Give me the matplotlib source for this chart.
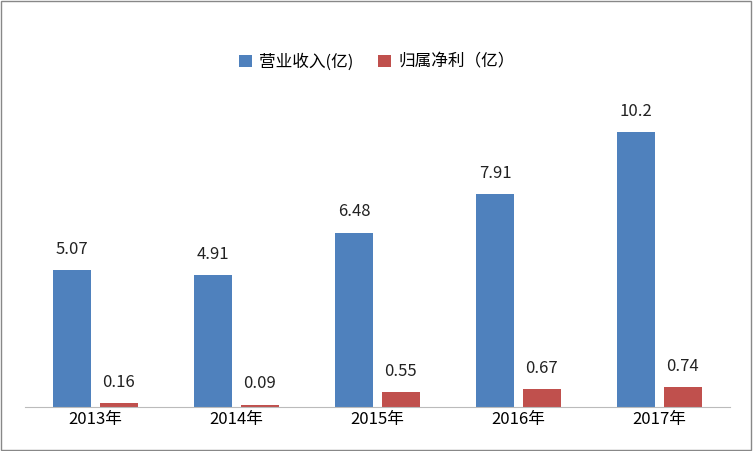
import numpy as np
import matplotlib.pyplot as plt

plt.rcParams['font.family'] = ['Noto Sans CJK SC', 'DejaVu Sans']

years = ['2013年', '2014年', '2015年', '2016年', '2017年']
revenue = [5.07, 4.91, 6.48, 7.91, 10.2]
profit = [0.16, 0.09, 0.55, 0.67, 0.74]

fig = plt.figure(figsize=(7.53, 4.51), dpi=100)
ax = fig.add_axes([25 / 753, 44 / 451, 705 / 753, 377 / 451])
x = np.arange(len(years))
w = 0.27
b1 = ax.bar(x - 0.165, revenue, w, color='#4F81BD', label='营业收入(亿)')
b2 = ax.bar(x + 0.165, profit, w, color='#C0504D', label='归属净利（亿）')
for bars, vals in ((b1, revenue), (b2, profit)):
    for r, v in zip(bars, vals):
        ax.text(r.get_x() + r.get_width() / 2, v + 0.45, f'{v:g}',
                ha='center', va='bottom', fontsize=12, color='#222222')

ax.set_xlim(-0.5, len(years) - 0.5)
ax.set_ylim(0, 14)
ax.set_xticks(x)
ax.set_xticklabels(years, fontsize=12)
ax.tick_params(axis='x', length=0, pad=3)
ax.set_yticks([])
for s in ['left', 'right', 'top']:
    ax.spines[s].set_visible(False)
ax.spines['bottom'].set_color('#BBBBBB')

fig.legend(handles=[b1, b2], loc='center', bbox_to_anchor=(0.5, 1 - 62 / 451),
           ncol=2, frameon=False, fontsize=12, handlelength=0.8, handleheight=0.8,
           columnspacing=1.5, handletextpad=0.4)

fig.patches.append(plt.Rectangle((0.001, 0.002), 0.997, 0.996, transform=fig.transFigure,
                                 fill=False, edgecolor='#888888', linewidth=1))
fig.savefig('out.png', dpi=100)
